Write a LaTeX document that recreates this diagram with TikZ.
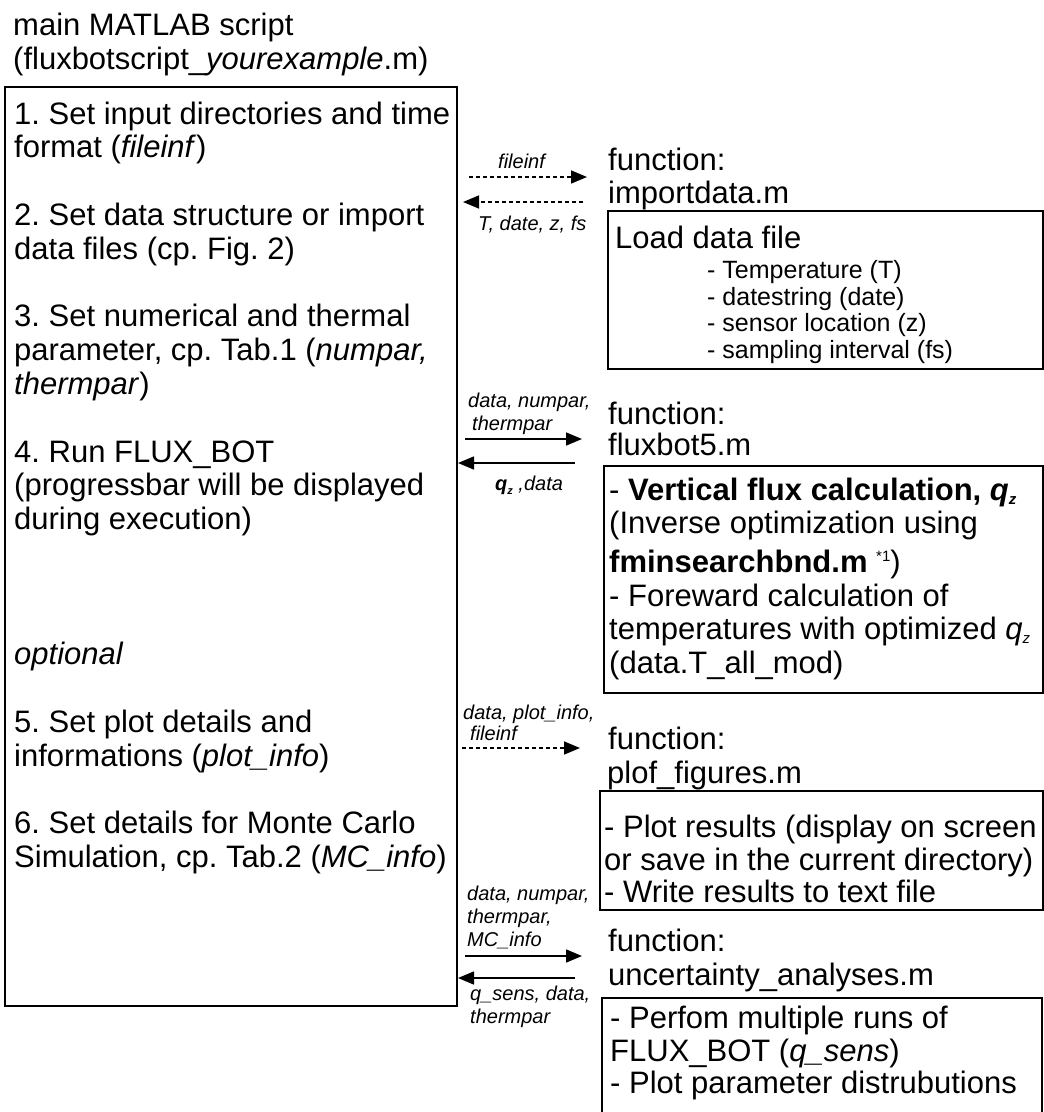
\documentclass[tikz,border=0pt]{standalone}
\usepackage{fontspec}
\setmainfont{Liberation Sans}
\usetikzlibrary{arrows.meta}
\frenchspacing

% lowered small "z" used as the subscript of q
\newcommand\lowz[1]{\raisebox{-4pt}{\fontsize{#1}{#1}\selectfont z}}

\begin{document}
\begin{tikzpicture}[x=1pt,y=-1pt]
\tikzset{
  body/.style={anchor=base west, inner sep=0pt, font=\fontsize{31}{33}\selectfont},
  item/.style={anchor=base west, inner sep=0pt, font=\fontsize{25}{27}\selectfont},
  tag/.style={anchor=base west, inner sep=0pt, font=\fontsize{20}{22}\selectfont\itshape},
  frame/.style={draw, line width=1.8pt, inner sep=0pt, anchor=north west},
  rule/.style={line width=1.8pt},
  flow/.style={line width=1.6pt, -{Triangle[length=16pt,width=13pt]}},
  dflow/.style={flow, dash pattern=on 4pt off 3pt},
}
\useasboundingbox (0,0) rectangle (1044,1112);

% ---- main script ----
\node[body] (title1) at (13,35) {main MATLAB script};
\node[body] (title2) at (13,69) {(fluxbotscript\_\textit{yourexample}.m)};
\node[frame, minimum width=452pt, minimum height=919pt] (mainbox) at (4,86) {};

\node[body] (s1a) at (14,124)   {1. Set input directories and time};
\node[body] (s1b) at (14,157.8) {format (\textit{fileinf})};
\node[body] (s2a) at (14,225.4) {2. Set data structure or import};
\node[body] (s2b) at (14,259.2) {data files (cp. Fig. 2)};
\node[body] (s3a) at (14,326.8) {3. Set numerical and thermal};
\node[body] (s3b) at (14,360.6) {parameter, cp. Tab.1 (\textit{numpar,}};
\node[body] (s3c) at (14,394.4) {\textit{thermpar})};
\node[body] (s4a) at (14,462)   {4. Run FLUX\_BOT};
\node[body] (s4b) at (14,495.8) {(progressbar will be displayed};
\node[body] (s4c) at (14,529.6) {during execution)};
\node[body] (opt) at (14,664.8) {\textit{optional}};
\node[body] (s5a) at (14,732.4) {5. Set plot details and};
\node[body] (s5b) at (14,766.2) {informations (\textit{plot\_info})};
\node[body] (s6a) at (14,833.8) {6. Set details for Monte Carlo};
\node[body] (s6b) at (14,867.6) {Simulation, cp. Tab.2 (\textit{MC\_info})};

% ---- importdata.m ----
\node[body] (fn1) at (608,170) {function:};
\node[body] (fn1name) at (608,203) {importdata.m};
\node[frame, minimum width=435pt, minimum height=158pt] (box1) at (607,210) {};
\node[body] (load) at (615,248) {Load data file};
\node[item] (it1) at (707,278) {- Temperature (T)};
\node[item] (it2) at (707,305) {- datestring (date)};
\node[item] (it3) at (707,331) {- sensor location (z)};
\node[item] (it4) at (707,358) {- sampling interval (fs)};

% ---- fluxbot5.m ----
\node[body] (fn2) at (608,424) {function:};
\node[body] (fn2name) at (608,455) {fluxbot5.m};
\node[frame, minimum width=439pt, minimum height=227pt] (box2) at (603,465) {};
\node[body] (b2l1) at (609,500) {- {\bfseries Vertical flux calculation, \itshape q\lowz{15}}};
\node[body] (b2l2) at (609,533) {(Inverse optimization using};
\node[body] (b2l3) at (609,572) {\textbf{fminsearchbnd.m} \raisebox{11pt}{\fontsize{15}{15}\selectfont *1})};
\node[body] (b2l4) at (609,606) {- Foreward calculation of};
\node[body] (b2l5) at (609,639) {temperatures with optimized {\itshape q\lowz{15}}};
\node[body] (b2l6) at (609,673) {(data.T\_all\_mod)};

% ---- plof_figures.m ----
\node[body] (fn3) at (608,749) {function:};
\node[body] (fn3name) at (607,783) {plof\_figures.m};
\node[frame, minimum width=443pt, minimum height=119pt] (box3) at (599,790) {};
\node[body] (b3l1) at (604,837) {- Plot results (display on screen};
\node[body] (b3l2) at (604,870) {or save in the current directory)};
\node[body] (b3l3) at (604,902) {- Write results to text file};

% ---- uncertainty_analyses.m (box open at the lower edge) ----
\node[body] (fn4) at (608,951) {function:};
\node[body] (fn4name) at (608,985) {uncertainty\_analyses.m};
\coordinate (b4bl) at (602,1112);
\coordinate (b4tl) at (602,998);
\coordinate (b4tr) at (1042,998);
\coordinate (b4br) at (1042,1112);
\draw[rule] (b4bl) -- (b4tl) -- (b4tr) -- (b4br);
\node[body] (b4l1) at (610,1028) {- Perfom multiple runs of};
\node[body] (b4l2) at (610,1061) {FLUX\_BOT (\textit{q\_sens})};
\node[body] (b4l3) at (610,1093) {- Plot parameter distrubutions};

% ---- exchanged variables ----
\node[tag] (t1a) at (498,168) {fileinf};
\coordinate (a1s) at (469,177);
\coordinate (a1e) at (587,177);
\draw[dflow] (a1s) -- (a1e);
\coordinate (r1s) at (583,202);
\coordinate (r1e) at (463,202);
\draw[dflow] (r1s) -- (r1e);
\node[tag] (t1b) at (478,230) {T, date, z, fs};

\node[tag] (t2a) at (468,407) {data, numpar,};
\node[tag] (t2b) at (472,430) {thermpar};
\coordinate (a2s) at (465,439);
\coordinate (a2e) at (582,439);
\draw[flow] (a2s) -- (a2e);
\coordinate (r2s) at (575,463);
\coordinate (r2e) at (458,463);
\draw[flow] (r2s) -- (r2e);
\node[tag] (t2c) at (495,490) {{\bfseries q\lowz{11}} ,data};

\node[tag] (t3a) at (463,719) {data, plot\_info,};
\node[tag] (t3b) at (470,740) {fileinf};
\coordinate (a3s) at (462,748);
\coordinate (a3e) at (580,748);
\draw[dflow] (a3s) -- (a3e);

\node[tag] (t4a) at (467,900) {data, numpar,};
\node[tag] (t4b) at (467,923) {thermpar,};
\node[tag] (t4c) at (467,946) {MC\_info};
\coordinate (a4s) at (465,956);
\coordinate (a4e) at (582,956);
\draw[flow] (a4s) -- (a4e);
\coordinate (r4s) at (575,978);
\coordinate (r4e) at (458,978);
\draw[flow] (r4s) -- (r4e);
\node[tag] (t4d) at (470,1000) {q\_sens, data,};
\node[tag] (t4e) at (470,1023) {thermpar};
\end{tikzpicture}
\end{document}
